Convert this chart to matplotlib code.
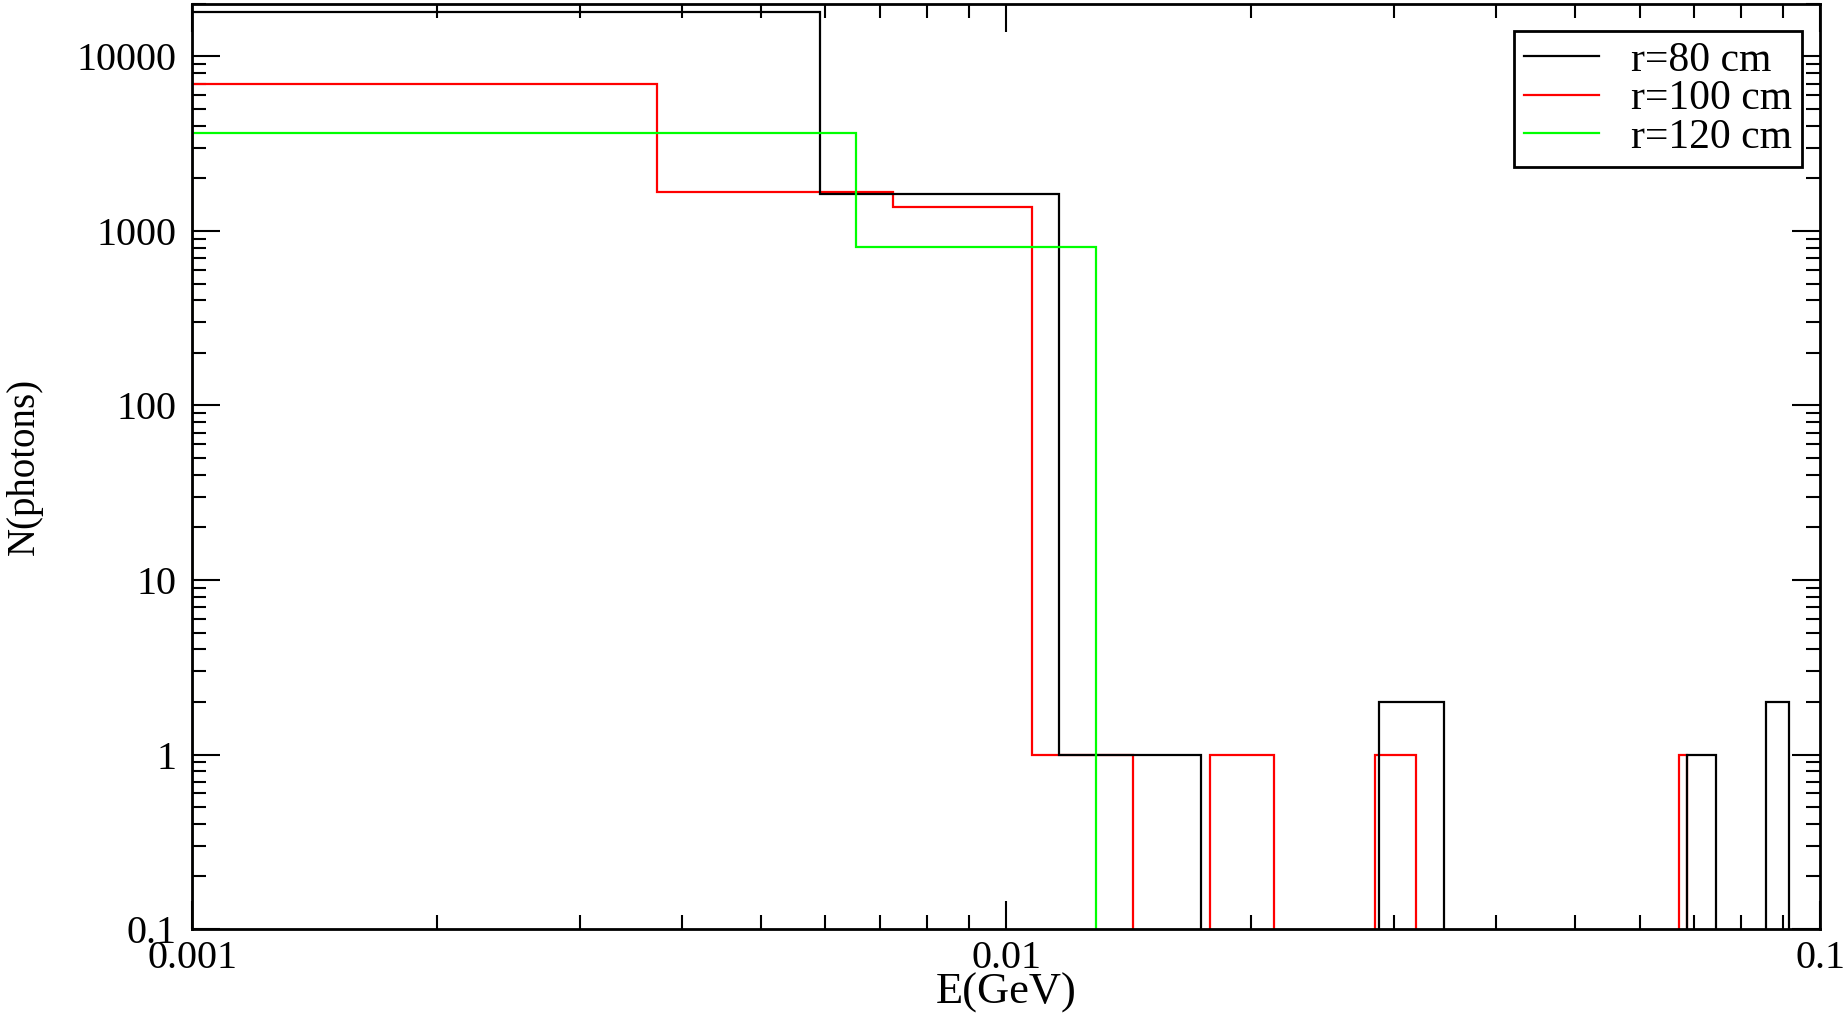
import matplotlib
matplotlib.use("Agg")
import matplotlib.pyplot as plt
from matplotlib.lines import Line2D
from matplotlib.ticker import LogLocator, FuncFormatter, NullFormatter

# bin edges in GeV and photon counts (0 = empty bin)
edges_80 = [0.001, 0.00591, 0.01163, 0.01736, 0.02872, 0.03452, 0.06866, 0.07451, 0.08587, 0.09162]
counts_80 = [17900, 1630, 1, 0, 2, 0, 1, 0, 2]

edges_100 = [0.001, 0.00373, 0.00726, 0.01076, 0.01432, 0.01781, 0.02135, 0.02840, 0.03189, 0.06712, 0.06866]
counts_100 = [7000, 1680, 1380, 1, 0, 1, 0, 1, 0, 1]

edges_120 = [0.001, 0.00655, 0.0129]
counts_120 = [3660, 813]

labels = ["r=80 cm", "r=100 cm", "r=120 cm"]
colors = ["black", "#ff0000", "#00ff00"]

xticks = [0.001, 0.01, 0.1]
yticks = [0.1, 1, 10, 100, 1000, 10000]

plt.rcParams['font.family'] = 'Liberation Serif'

fig = plt.figure(figsize=(18.45, 10.13), dpi=100)
ax = fig.add_axes([0.1041, 0.0829, 0.8824, 0.9132])

ax.stairs(counts_100, edges_100, baseline=0, color=colors[1], lw=1.6, zorder=2)
ax.stairs(counts_80, edges_80, baseline=0, color=colors[0], lw=1.6, zorder=3)
ax.stairs(counts_120, edges_120, baseline=0, color=colors[2], lw=1.6, zorder=4)

ax.set_xscale('log')
ax.set_yscale('log')
ax.set_xlim(0.001, 0.1)
ax.set_ylim(0.1, 20000)

ax.set_xticks(xticks)
ax.set_yticks(yticks)
fmt = FuncFormatter(lambda v, p: '%g' % v)
ax.xaxis.set_major_formatter(fmt)
ax.yaxis.set_major_formatter(fmt)
ax.xaxis.set_minor_locator(LogLocator(base=10, subs=range(2, 10)))
ax.yaxis.set_minor_locator(LogLocator(base=10, subs=range(2, 10)))
ax.xaxis.set_minor_formatter(NullFormatter())
ax.yaxis.set_minor_formatter(NullFormatter())

ax.tick_params(which='both', direction='in', top=True, right=True, width=1.5, labelsize=29)
ax.tick_params(which='major', length=20)
ax.tick_params(which='minor', length=10)
ax.tick_params(axis='y', pad=11)
ax.tick_params(axis='x', pad=8)
for s in ax.spines.values():
    s.set_linewidth(2)
    s.set_zorder(10)

ax.set_xlabel('E(GeV)', fontsize=32)
ax.set_ylabel('N(photons)', fontsize=28)
ax.xaxis.set_label_coords(0.5, -0.047)
ax.yaxis.set_label_coords(-0.0915, 0.5)

handles = [Line2D([], [], color=c, lw=1.6) for c in colors]
leg = ax.legend(handles, labels, loc='upper right', bbox_to_anchor=(0.989, 0.9708),
                fontsize=30, fancybox=False, edgecolor='black', framealpha=1,
                handlelength=1.8, handletextpad=0.75, labelspacing=0.0,
                borderpad=0.25, borderaxespad=0)
leg.get_frame().set_linewidth(2)
leg.set_zorder(11)

fig.savefig('out.png', dpi=100)
